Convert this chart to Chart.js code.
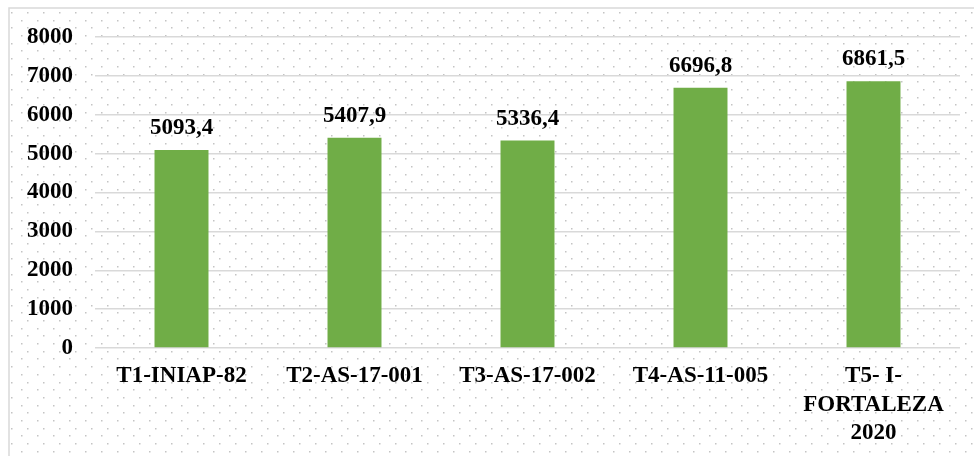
<!DOCTYPE html>
<html>
<head>
<meta charset="utf-8">
<script src="https://cdn.jsdelivr.net/npm/chart.js@4/dist/chart.umd.min.js"></script>
<style>
  html, body { margin: 0; padding: 0; background: #ffffff; }
  #wrap { width: 974px; height: 456px; }
</style>
</head>
<body>
<div id="wrap"><canvas id="c" width="974" height="456"></canvas></div>
<script>
// Rendimiento por tratamiento
const categories = [
  'T1-INIAP-82',
  'T2-AS-17-001',
  'T3-AS-17-002',
  'T4-AS-11-005',
  ['T5- I-', 'FORTALEZA', '2020']
];
const yields = [5093.4, 5407.9, 5336.4, 6696.8, 6861.5];
const yTicks = [0, 1000, 2000, 3000, 4000, 5000, 6000, 7000, 8000];

const FONT_FAMILY = "'Liberation Serif', 'Times New Roman', serif";
const GRID = '#d9d9d9';

// Frame with a light dotted fill behind the plot
const backdrop = {
  id: 'backdrop',
  beforeDraw(chart) {
    const ctx = chart.ctx;
    const w = chart.width, h = chart.height;
    ctx.save();
    ctx.fillStyle = '#ffffff';
    ctx.fillRect(0, 0, w, h);
    ctx.fillStyle = '#c4c4c4';
    for (let k = 0; ; k++) {
      const y = 12.7 + k * 7.7;
      if (y > h) break;
      const x0 = (k % 2 === 0) ? 11.3 : 5.7;
      for (let x = x0; x < w; x += 16) {
        if (x < 11 || y < 10) continue;
        ctx.fillRect(Math.round(x - 0.75), Math.round(y - 0.75), 1.5, 1.5);
      }
    }
    ctx.strokeStyle = GRID;
    ctx.lineWidth = 1.5;
    ctx.beginPath();
    ctx.moveTo(9, h + 2);
    ctx.lineTo(9, 8);
    ctx.lineTo(w + 2, 8);
    ctx.stroke();
    ctx.restore();
  }
};

// Value labels above each bar (decimal comma)
const valueLabels = {
  id: 'valueLabels',
  afterDatasetsDraw(chart) {
    const ctx = chart.ctx;
    const meta = chart.getDatasetMeta(0);
    ctx.save();
    ctx.font = 'bold 23px ' + FONT_FAMILY;
    ctx.fillStyle = '#000000';
    ctx.textAlign = 'center';
    ctx.textBaseline = 'alphabetic';
    meta.data.forEach((bar, i) => {
      const txt = yields[i].toFixed(1).replace('.', ',');
      ctx.fillText(txt, bar.x, bar.y - 16);
    });
    ctx.restore();
  }
};

new Chart(document.getElementById('c'), {
  type: 'bar',
  data: {
    labels: categories,
    datasets: [{
      data: yields,
      backgroundColor: '#70ad47',
      borderWidth: 0,
      categoryPercentage: 1.0,
      barPercentage: 0.312
    }]
  },
  options: {
    responsive: false,
    animation: false,
    devicePixelRatio: 1,
    layout: { padding: { top: 37, right: 14, bottom: 0, left: 0 } },
    plugins: {
      legend: { display: false },
      tooltip: { enabled: false }
    },
    scales: {
      x: {
        grid: { display: false, drawTicks: false },
        border: { display: false },
        ticks: {
          color: '#000000',
          padding: 14,
          maxRotation: 0,
          autoSkip: false,
          font: { family: FONT_FAMILY, size: 23, weight: 'bold', lineHeight: 1.24 }
        },
        afterFit(scale) { scale.height = 108; }
      },
      y: {
        min: 0,
        max: 8000,
        afterBuildTicks(scale) { scale.ticks = yTicks.map(v => ({ value: v })); },
        grid: { color: GRID, lineWidth: 1.5, drawTicks: false },
        border: { display: false },
        ticks: {
          color: '#000000',
          padding: 22,
          font: { family: FONT_FAMILY, size: 23, weight: 'bold' },
          callback: (v) => String(v)
        },
        afterFit(scale) { scale.width = 95; }
      }
    }
  },
  plugins: [backdrop, valueLabels]
});
</script>
</body>
</html>
